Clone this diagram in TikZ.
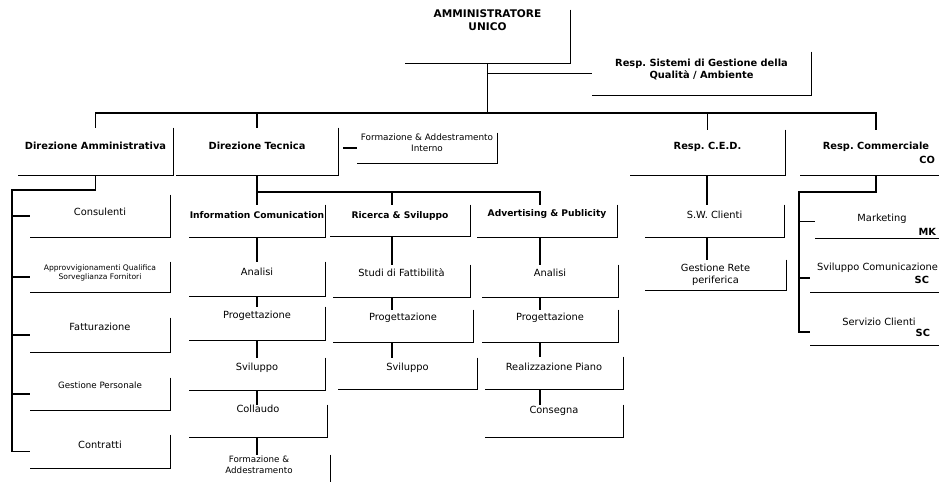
\documentclass[tikz,border=0pt]{standalone}
\usepackage{fontspec}
\setmainfont{DejaVu Sans}
\usepackage{tikz}
\usetikzlibrary{calc}
\frenchspacing

\begin{document}
\begin{tikzpicture}[x=0.025cm, y=-0.025cm,
  boxsize/.style 2 args={inner sep=0pt, minimum width=#1*0.025cm, minimum height=#2*0.025cm, align=center},
  headbig/.style={font=\bfseries\fontsize{7.5}{9}\selectfont},
  head/.style={font=\bfseries\fontsize{7}{8.4}\selectfont},
  headsm/.style={font=\bfseries\fontsize{6.5}{7.8}\selectfont},
  sub/.style={font=\fontsize{7}{8.4}\selectfont},
  subsm/.style={font=\fontsize{6.2}{7.4}\selectfont},
  tiny/.style={font=\fontsize{5.4}{6.5}\selectfont},
  boxline/.style={black, line width=0.9pt},
  conn/.style={black, line width=1.3pt}]
\useasboundingbox (0,0) rectangle (939,481);
\clip (0,0) rectangle (939,481);

\node [headbig, boxsize={165}{53}, text depth=23pt] (amm) at (487.5,36.5) {AMMINISTRATORE\\UNICO};
\node [head, boxsize={219}{43}, text depth=6.4pt] (qual) at (701.5,73.5) {Resp. Sistemi di Gestione della\\Qualità / Ambiente};

\node [head, boxsize={155}{47}, text depth=7.8pt] (dirAmm) at (95.5,151.5) {Direzione Amministrativa};
\node [head, boxsize={162}{47}, text depth=7.8pt] (dirTec) at (257,151.5) {Direzione Tecnica};
\node [sub, font=\fontsize{6.3}{7.6}\selectfont, boxsize={140}{30}, text depth=8pt] (form) at (427,148) {Formazione \& Addestramento\\Interno};
\node [head, boxsize={155}{45}, text depth=9.2pt] (ced) at (707.5,152.5) {Resp. C.E.D.};
\node [head, boxsize={152}{45}, text depth=9.2pt] (comm) at (876,152.5) {Resp. Commerciale};
\node [head, anchor=east] (commCode) at (940,160) {CO};

\node [sub, boxsize={140}{42}, text depth=5.7pt] (cons) at (100,216) {Consulenti};
\node [tiny, boxsize={140}{30}, text depth=7.1pt] (appr) at (100,277) {Approvvigionamenti Qualifica\\Sorveglianza Fornitori};
\node [sub, boxsize={140}{34}, text depth=11.4pt] (fatt) at (100,335) {Fatturazione};
\node [subsm, boxsize={140}{32}, text depth=12.8pt] (pers) at (100,394) {Gestione Personale};
\node [sub, boxsize={140}{33}, text depth=9.2pt] (contr) at (100,451.5) {Contratti};

\node [headsm, boxsize={136}{32}, text depth=8.5pt] (ic) at (257,221) {Information Comunication};
\node [headsm, boxsize={140}{31}, text depth=7.8pt] (rs) at (400,220.5) {Ricerca \& Sviluppo};
\node [headsm, boxsize={140}{32}, text depth=11.4pt] (ap) at (547,221) {Advertising \& Publicity};

\node [sub, boxsize={136}{34}, text depth=9.9pt] (icAn) at (257,279) {Analisi};
\node [sub, boxsize={136}{33}, text depth=12.1pt] (icPro) at (257,323.5) {Progettazione};
\node [sub, boxsize={136}{32}, text depth=9.9pt] (icSvi) at (257,374) {Sviluppo};
\node [sub, boxsize={138}{32}, text depth=17.5pt] (icCol) at (258,421) {Collaudo};
\node [subsm, boxsize={142}{45}, text depth=18pt] (icForm) at (259,477.5) {Formazione \&\\Addestramento};

\node [sub, boxsize={137}{32}, text depth=11.4pt] (rsStu) at (401.5,281) {Studi di Fattibilità};
\node [sub, boxsize={140}{32}, text depth=12.8pt] (rsPro) at (403,326) {Progettazione};
\node [sub, boxsize={139}{31}, text depth=9.2pt] (rsSvi) at (407.5,373.5) {Sviluppo};

\node [sub, boxsize={136}{32}, text depth=11.4pt] (apAn) at (550,281) {Analisi};
\node [sub, boxsize={136}{32}, text depth=12.8pt] (apPro) at (550,326) {Progettazione};
\node [sub, boxsize={138}{32}, text depth=8.5pt] (apReal) at (554,373) {Realizzazione Piano};
\node [sub, boxsize={138}{32}, text depth=15.6pt] (apCons) at (554,421) {Consegna};

\node [sub, boxsize={139}{32}, text depth=8.5pt] (swCl) at (714.5,221) {S.W. Clienti};
\node [sub, boxsize={141}{30}, text depth=1.4pt] (gRete) at (715.5,275) {Gestione Rete\\periferica};

\node [sub, boxsize={134}{33}, text depth=5pt] (mkt) at (882,221.5) {Marketing};
\node [head, anchor=east] (mktCode) at (941,232) {MK};
\node [sub, boxsize={135}{42}, text depth=5.7pt] (svCom) at (877.5,271) {Sviluppo Comunicazione};
\node [head, anchor=east] (svComCode) at (934,280) {SC};
\node [sub, boxsize={138}{40}, text depth=4.3pt] (sCli) at (879,325) {Servizio Clienti};
\node [head, anchor=east] (sCliCode) at (935,333) {SC};

\foreach \n in {amm,qual,dirAmm,dirTec,form,ced,comm,cons,appr,fatt,pers,contr,ic,rs,ap,icAn,icPro,icSvi,icCol,icForm,rsStu,rsPro,rsSvi,apAn,apPro,apReal,apCons,swCl,gRete,mkt,svCom,sCli}
  \draw [boxline] (\n.north east) -- (\n.south east) -- (\n.south west);

\coordinate (bus) at (0,113);
\draw [conn] (amm.south) -- (amm.south |- bus);
\draw [conn] (amm.south |- qual.west) -- (qual.west);
\draw [conn] (dirAmm.north) |- (bus -| comm.north) -- (comm.north);
\draw [conn] (dirTec.north) -- (dirTec.north |- bus);
\draw [conn] (ced.north) -- (ced.north |- bus);
\draw [conn] ($(dirTec.east |- form.west)+(5,0)$) -- (form.west);

\coordinate (spineA) at (12,190);
\draw [conn] (dirAmm.south) |- (spineA) |- (contr.west);
\foreach \n in {cons,appr,fatt,pers}
  \draw [conn] (spineA |- \n.west) -- (\n.west);

\coordinate (tecBus) at (0,192);
\coordinate (colIC) at (257,0);
\coordinate (colRS) at (392,0);
\coordinate (colAP) at (540,0);
\coordinate (colCED) at (707,0);
\draw [conn] (dirTec.south) -- (colIC |- ic.north);
\draw [conn] (colIC |- tecBus) -| (colAP |- ap.north);
\draw [conn] (colRS |- tecBus) -- (colRS |- rs.north);
\foreach \a/\b in {ic/icAn,icAn/icPro,icPro/icSvi,icSvi/icCol,icCol/icForm}
  \draw [conn] (\a.south -| colIC) -- (\b.north -| colIC);
\foreach \a/\b in {rs/rsStu,rsStu/rsPro,rsPro/rsSvi}
  \draw [conn] (\a.south -| colRS) -- (\b.north -| colRS);
\foreach \a/\b in {ap/apAn,apAn/apPro,apPro/apReal,apReal/apCons}
  \draw [conn] (\a.south -| colAP) -- (\b.north -| colAP);
\foreach \a/\b in {ced/swCl,swCl/gRete}
  \draw [conn] (\a.south -| colCED) -- (\b.north -| colCED);

\coordinate (spineC) at (799,192);
\draw [conn] (comm.south) |- (spineC) |- ($(sCli.west)+(0,7)$);
\draw [conn] (spineC |- mkt.west) -- (mkt.west);
\draw [conn] ($(spineC |- svCom.west)+(0,7)$) -- ($(svCom.west)+(0,7)$);

\end{tikzpicture}
\end{document}
